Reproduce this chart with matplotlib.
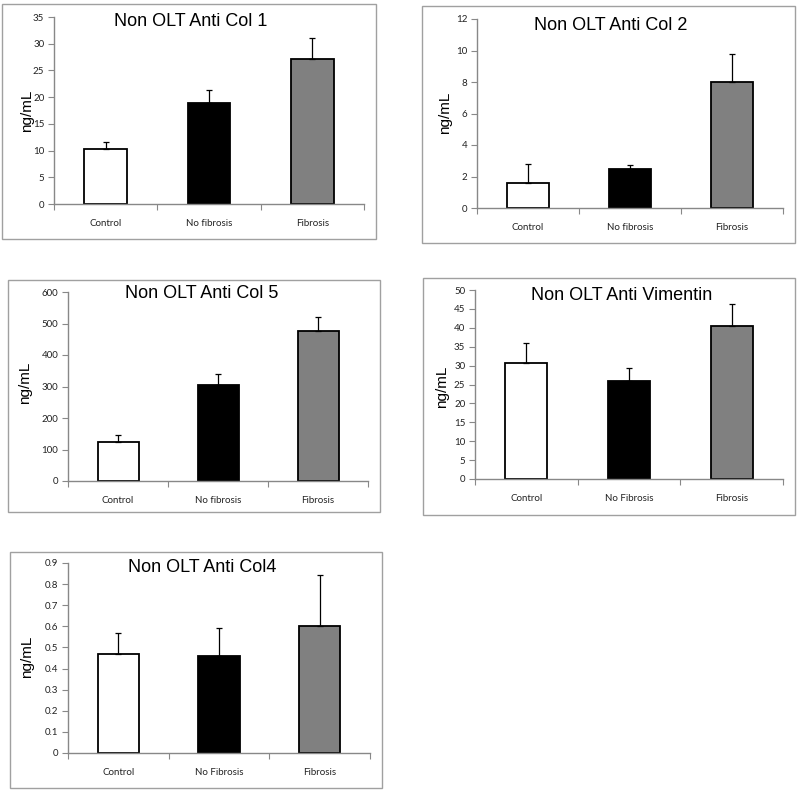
import matplotlib
matplotlib.use("Agg")
from matplotlib import pyplot as plt
from matplotlib.patches import Rectangle
import numpy as np

# data
titles = ["Non OLT Anti Col 1", "Non OLT Anti Col 2", "Non OLT Anti Col 5",
          "Non OLT Anti Vimentin", "Non OLT Anti Col4"]
cats_lower = ["Control", "No fibrosis", "Fibrosis"]
cats_upper = ["Control", "No Fibrosis", "Fibrosis"]
col1_mean = [10.3, 18.9, 27.1]
col1_err = [1.3, 2.4, 3.9]
col2_mean = [1.6, 2.45, 8.0]
col2_err = [1.2, 0.25, 1.8]
col5_mean = [125, 305, 476]
col5_err = [20, 35, 46]
vim_mean = [30.7, 26.0, 40.5]
vim_err = [5.2, 3.3, 5.8]
col4_mean = [0.47, 0.46, 0.60]
col4_err = [0.10, 0.13, 0.245]
ymax = [35, 12, 600, 50, 0.9]
ystep = [5, 2, 100, 5, 0.1]

means = [col1_mean, col2_mean, col5_mean, vim_mean, col4_mean]
errs = [col1_err, col2_err, col5_err, vim_err, col4_err]
cats = [cats_lower, cats_lower, cats_lower, cats_upper, cats_upper]

W, H = 800, 794
# layout in pixels: (left, right, top, bottom)
axes_px = [(54, 364, 17, 204), (477, 783, 19, 208), (68, 368, 292, 481),
           (475, 783, 290, 479), (68, 370, 563, 753)]
frame_px = [(2, 376, 4, 239), (422, 795, 6, 243), (8, 380, 280, 512),
            (423, 795, 278, 515), (10, 382, 552, 788)]
title_px = [(191, 22), (611, 25), (202, 293), (622, 295), (202, 567)]
ylab_px = [(27, 111), (445, 113), (25, 383), (442, 387), (27, 657)]

fills = ["white", "black", "#808080"]
grey = "#888888"
tickfont = ['Lato', 'DejaVu Sans']

fig = plt.figure(figsize=(W / 100, H / 100), dpi=100)
plt.rcParams['font.family'] = ['Liberation Sans', 'DejaVu Sans']

for i in range(5):
    fl, fr, ft, fb = frame_px[i]
    fig.add_artist(Rectangle((fl / W, 1 - fb / H), (fr - fl) / W, (fb - ft) / H,
                             transform=fig.transFigure, fill=False,
                             edgecolor="#a0a0a0", linewidth=1.0))
    l, r, t, b = axes_px[i]
    ax = fig.add_axes([l / W, 1 - b / H, (r - l) / W, (b - t) / H])
    x = np.arange(1, 4)
    ax.bar(x, means[i], width=0.41, color=fills, edgecolor="black",
           linewidth=1.3, zorder=2)
    ax.errorbar(x, means[i], yerr=[np.zeros(3), errs[i]], fmt="none",
                ecolor="black", elinewidth=0.9, capsize=2.5, capthick=0.9,
                zorder=3)
    ax.set_xlim(0.5, 3.5)
    ax.set_ylim(0, ymax[i])
    yt = np.arange(0, ymax[i] + ystep[i] / 2, ystep[i])
    ax.set_yticks(yt)
    if ystep[i] < 1:
        ylabels = ["0"] + ["%.1f" % v for v in yt[1:]]
    else:
        ylabels = ["%d" % v for v in yt]
    ax.set_yticklabels(ylabels, fontfamily=tickfont, fontsize=7)
    ax.set_xticks([0.5, 1.5, 2.5, 3.5])
    ax.set_xticklabels([])
    ax.set_xticks(x, minor=True)
    ax.set_xticklabels(cats[i], minor=True, fontfamily=tickfont, fontsize=7)
    ax.tick_params(axis="x", which="minor", length=0, pad=11,
                   labelcolor="#222222")
    ax.tick_params(axis="x", which="major", length=4, color=grey, direction="out")
    ax.tick_params(axis="y", length=4, color=grey, direction="out",
                   labelcolor="#222222", pad=3)
    for s in ["top", "right"]:
        ax.spines[s].set_visible(False)
    for s in ["left", "bottom"]:
        ax.spines[s].set_color(grey)
        ax.spines[s].set_linewidth(1.0)
    ax.patch.set_alpha(0)
    tx, ty = title_px[i]
    fig.text(tx / W, 1 - ty / H, titles[i], ha="center", va="center", fontsize=13)
    lx, ly = ylab_px[i]
    fig.text(lx / W, 1 - ly / H, "ng/mL", ha="center", va="center",
             rotation=90, fontsize=11)

plt.savefig("out.png", dpi=100)
